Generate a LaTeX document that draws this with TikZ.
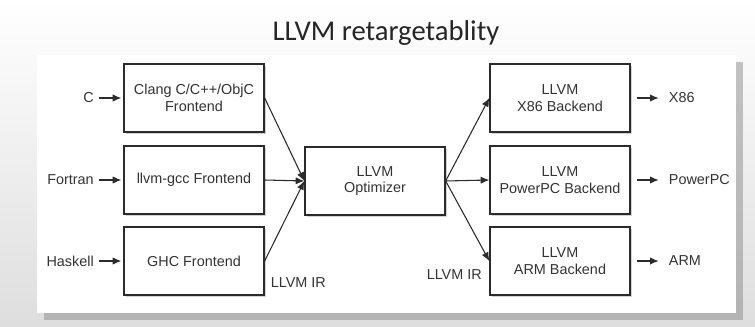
\documentclass[tikz,border=0pt]{standalone}
\usepackage{fontspec}
\setmainfont{Liberation Sans}
\newfontfamily\titlefont{Carlito}
\usepackage{tikz}
\usetikzlibrary{arrows.meta, positioning, shadows}
\usepackage{xcolor}
\definecolor{llvmline}{HTML}{2B2B2B}
\definecolor{llvmtext}{HTML}{333333}

\begin{document}
\begin{tikzpicture}[
  x=0.75pt, y=-0.75pt,
  stage/.style={draw=llvmline, line width=1pt, fill=white, align=center,
    minimum width=105pt, minimum height=51pt, inner sep=2pt,
    font=\fontsize{10.8}{12.5}\selectfont, text=llvmtext,
    drop shadow={shadow xshift=1.5pt, shadow yshift=-1.5pt, opacity=0.35}},
  io/.style={font=\fontsize{10.8}{12.5}\selectfont, text=llvmtext, inner sep=1pt},
  flow/.style={-{Latex[length=6.5pt, width=5.5pt]}, line width=0.8pt, llvmline},
  >=Latex
]
  % Slide background and panel
  \useasboundingbox (0,0) rectangle (755,327);
  \shade[top color=white, bottom color=black!13] (0,0) rectangle (755,327);
  \fill[white, drop shadow={shadow xshift=5pt, shadow yshift=-5pt, opacity=0.45}]
    (37,55) rectangle (736,313);

  % Title
  \node[font=\titlefont\fontsize{21.5}{24}\selectfont, text=black!85]
    (title) at (386,33) {LLVM retargetablity};

  % Frontends
  \foreach \nm/\src/\lbl/\y in {clang/C/{Clang C/C++/ObjC\\Frontend}/98,
      gcc/Fortran/{llvm-gcc Frontend}/180, ghc/Haskell/{GHC Frontend}/261} {
    \node[stage] (\nm) at (194,\y) {\lbl};
    \node[io, left=21pt of \nm] (\nm-in) {\src};
    \draw[flow, shorten <=2.5pt, shorten >=1.5pt] (\nm-in) -- (\nm);
  }

  % Optimizer
  \node[stage] (opt) at (375,181) {LLVM\\Optimizer};

  % Backends
  \foreach \nm/\arch/\y in {x86/X86/98, ppc/PowerPC/180, arm/ARM/261} {
    \node[stage] (\nm) at (560,\y) {LLVM\\\arch{} Backend};
    \node[io, right=27.5pt of \nm] (\nm-out) {\arch};
    \draw[flow, shorten <=4.5pt, shorten >=6.5pt] (\nm) -- (\nm-out);
  }

  % IR connections
  \foreach \nm in {clang,gcc,ghc}
    \draw[flow] (\nm.east) -- (opt.west);
  \foreach \nm in {x86,ppc,arm}
    \draw[flow] (opt.east) -- (\nm.west);

  \node[io, below right=11pt and 3.5pt of ghc.east] (ir-in) {LLVM IR};
  \node[io, below left=5.5pt and 4.5pt of arm.west] (ir-out) {LLVM IR};
\end{tikzpicture}
\end{document}
